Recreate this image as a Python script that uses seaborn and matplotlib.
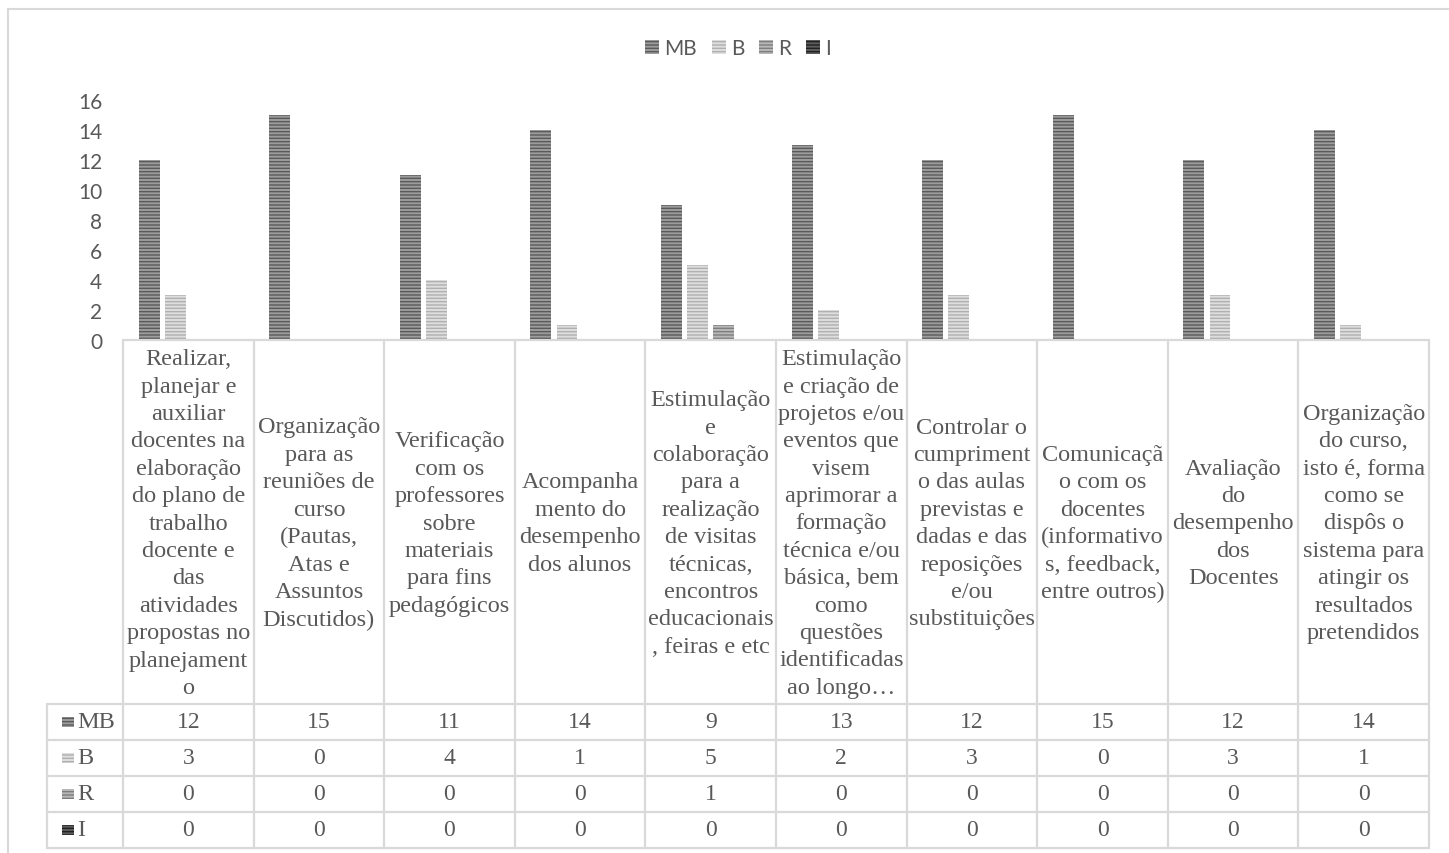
import matplotlib
matplotlib.use("Agg")
import matplotlib.pyplot as plt
import matplotlib.transforms as mtransforms
from matplotlib.patches import Rectangle, Patch
from matplotlib.lines import Line2D
import pandas as pd
import seaborn as sns

# ---- data -------------------------------------------------------------
categories = [
    "Realizar,\nplanejar e\nauxiliar\ndocentes na\nelaboração\ndo plano de\ntrabalho\ndocente e\ndas\natividades\npropostas no\nplanejament\no",
    "Organização\npara as\nreuniões de\ncurso\n(Pautas,\nAtas e\nAssuntos\nDiscutidos)",
    "Verificação\ncom os\nprofessores\nsobre\nmateriais\npara fins\npedagógicos",
    "Acompanha\nmento do\ndesempenho\ndos alunos",
    "Estimulação\ne\ncolaboração\npara a\nrealização\nde visitas\ntécnicas,\nencontros\neducacionais\n, feiras e etc",
    "Estimulação\ne criação de\nprojetos e/ou\neventos que\nvisem\naprimorar a\nformação\ntécnica e/ou\nbásica, bem\ncomo\nquestões\nidentificadas\nao longo…",
    "Controlar o\ncumpriment\no das aulas\nprevistas e\ndadas e das\nreposições\ne/ou\nsubstituições",
    "Comunicaçã\no com os\ndocentes\n(informativo\ns, feedback,\nentre outros)",
    "Avaliação\ndo\ndesempenho\ndos\nDocentes",
    "Organização\ndo curso,\nisto é, forma\ncomo se\ndispôs o\nsistema para\natingir os\nresultados\npretendidos",
]
series = ["MB", "B", "R", "I"]
mb_values = [12, 15, 11, 14, 9, 13, 12, 15, 12, 14]
b_values = [3, 0, 4, 1, 5, 2, 3, 0, 3, 1]
r_values = [0, 0, 0, 0, 1, 0, 0, 0, 0, 0]
i_values = [0, 0, 0, 0, 0, 0, 0, 0, 0, 0]
y_ticks = [0, 2, 4, 6, 8, 10, 12, 14, 16]

values = {"MB": mb_values, "B": b_values, "R": r_values, "I": i_values}
df = pd.DataFrame(
    [(c, s, values[s][k]) for s in series for k, c in enumerate(categories)],
    columns=["Categoria", "Série", "Valor"],
)

# ---- styling ----------------------------------------------------------
face = {"MB": "#9c9c9c", "B": "#dedede", "R": "#b8b8b8", "I": "#5c5c5c"}
stripe = {"MB": "#5a5a5a", "B": "#b0b0b0", "R": "#7e7e7e", "I": "#222222"}
HATCH = "-----"
TEXT = "#595959"
GRID = "#d9d9d9"
SERIF = "Liberation Serif"
SANS = "Lato"

sns.set_theme(style="white")
plt.rcParams["hatch.linewidth"] = 1.0

W, H = 1449, 854
fig = plt.figure(figsize=(W / 100, H / 100), dpi=100)
fig.patch.set_facecolor("white")


def fy(y):
    return 1 - y / H


def fx(x):
    return x / W


# chart frame
fig.add_artist(Rectangle((fx(8), fy(900)), 1.2, fy(10) - fy(900),
                         transform=fig.transFigure, fill=False,
                         edgecolor=GRID, linewidth=1.5))

ax = fig.add_axes([fx(123), fy(341), fx(1429) - fx(123), fy(101) - fy(341)])
sns.barplot(data=df, x="Categoria", y="Valor", hue="Série",
            hue_order=series, order=categories, width=0.8, gap=0.2,
            ax=ax, legend=False)

for container, name in zip(ax.containers, series):
    for bar in container:
        bar.set_facecolor(face[name])
        bar.set_edgecolor(stripe[name])
        bar.set_linewidth(0)
        bar.set_hatch(HATCH)

ax.set_xlim(-0.5, len(categories) - 0.5)
ax.set_ylim(0, 16)
ax.set_yticks(y_ticks)
ax.set_yticklabels([str(t) for t in y_ticks], fontsize=15, color=TEXT,
                   family=SANS)
ax.set_xticks([])
ax.set_xlabel("")
ax.set_ylabel("")
ax.tick_params(axis="y", length=0, pad=15)
for sp in ax.spines.values():
    sp.set_visible(False)
ax.set_facecolor("none")

# ---- data table under the axis -----------------------------------------
trans = mtransforms.blended_transform_factory(ax.transData, fig.transFigure)
col_px = (1429 - 123) / len(categories)
left_x = -0.5 - (123 - 47) / col_px
right_x = len(categories) - 0.5
row_edges = [705, 741, 777, 813, 849]


def hline(x0, x1, y):
    fig.add_artist(Line2D([x0, x1], [fy(y), fy(y)], transform=trans,
                          color=GRID, linewidth=1.6))


def vline(x, y0, y1):
    fig.add_artist(Line2D([x, x], [fy(y0), fy(y1)], transform=trans,
                          color=GRID, linewidth=1.6))


hline(-0.5, right_x, 341)
for y in row_edges:
    hline(left_x, right_x, y)
for k in range(len(categories) + 1):
    vline(k - 0.5, 341, 849)
vline(left_x, 705, 849)

for k, label in enumerate(categories):
    ax.text(k, fy(524), label, transform=trans, ha="center", va="center",
            multialignment="center", fontsize=17.5, family=SERIF, color=TEXT,
            linespacing=1.4)

for j, name in enumerate(series):
    yc = (row_edges[j] + row_edges[j + 1]) / 2
    fig.add_artist(Rectangle((fx(62), fy(yc + 5)), fx(12), fy(yc - 5) - fy(yc + 5),
                             transform=fig.transFigure, facecolor=face[name],
                             edgecolor=stripe[name], linewidth=0, hatch=HATCH))
    fig.text(fx(77), fy(yc), name, ha="left", va="center", fontsize=17.5,
             family=SERIF, color=TEXT)
    for k, v in enumerate(values[name]):
        ax.text(k, fy(yc), str(v), transform=trans, ha="center", va="center",
                fontsize=17, family=SERIF, color=TEXT)

# ---- legend -----------------------------------------------------------
handles = [Patch(facecolor=face[s], edgecolor=stripe[s], linewidth=0,
                 hatch=HATCH, label=s) for s in series]
leg = fig.legend(handles=handles, loc="center", ncol=4, frameon=False,
                 bbox_to_anchor=(fx(738), fy(49)),
                 handlelength=0.68, handleheight=0.68, handletextpad=0.25,
                 columnspacing=0.7, prop={"family": SANS, "size": 15})
for t in leg.get_texts():
    t.set_color(TEXT)

fig.savefig("out.png", dpi=100)
